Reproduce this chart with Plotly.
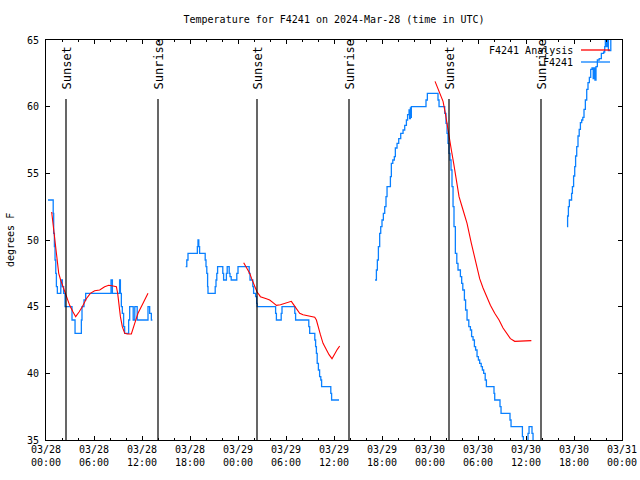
import pandas as pd
import plotly.graph_objects as go

BASE = pd.Timestamp("2024-03-28 00:00")

# Observations (F4241), hours since 03/28 00:00 UTC, degrees F -- three gaps
obs_hours = [
    [0.25, 0.8, 0.9, 0.96, 1.05, 1.13, 1.22, 1.3, 1.42, 1.75, 1.85, 1.95, 2.04, 2.2, 2.38, 3.05,
     3.25, 3.5, 3.63, 4.3, 4.42, 4.5, 4.75, 4.96, 7.96, 8.13, 8.3, 9.1, 9.2, 9.3, 9.42, 9.54,
     9.7, 9.83, 10.25, 10.33, 10.46, 10.8, 10.9, 11.1, 11.4, 12.6, 12.75, 12.96, 13.17, 13.3],
    [17.46, 17.6, 17.75, 18.85, 18.92, 19.0, 19.1, 19.2, 19.8, 19.9, 20.0, 20.1, 20.2, 20.25,
     21.05, 21.15, 21.25, 21.35, 21.45, 22.0, 22.1, 22.2, 22.5, 22.55, 22.65, 22.8, 22.9, 23.0,
     23.15, 23.75, 23.85, 24.0, 25.3, 25.4, 25.5, 25.75, 25.85, 25.95, 26.2, 26.33, 26.4, 28.6,
     28.7, 28.8, 29.3, 29.4, 29.5, 31.0, 31.1, 31.2, 32.7, 32.85, 32.96, 33.5, 33.6, 33.7, 33.8,
     33.9, 34.05, 34.2, 34.35, 34.45, 35.5, 35.6, 35.7, 36.63],
    [41.13, 41.3, 41.42, 41.55, 41.71, 41.84, 42.0, 42.17, 42.34, 42.5, 42.63, 43.0, 43.05,
     43.17, 43.35, 43.54, 43.67, 43.88, 44.09, 44.34, 44.63, 44.84, 45.05, 45.2, 45.38, 45.45,
     45.55, 45.6, 45.67, 47.34, 47.5, 47.67, 48.84, 49.0, 49.13, 49.63, 49.84, 50.0, 50.13,
     50.25, 50.38, 50.5, 50.63, 50.75, 50.88, 51.0, 51.17, 51.35, 51.5, 51.8, 51.96, 52.1, 52.3,
     52.45, 52.63, 52.85, 53.05, 53.2, 53.38, 53.55, 53.7, 53.88, 54.05, 54.21, 54.4, 54.55,
     54.71, 54.9, 55.05, 55.88, 56.0, 56.09, 56.63, 56.75, 56.88, 57.88, 58.0, 58.13, 59.42,
     59.55, 59.67, 60.13, 60.25, 60.38, 60.63, 60.75, 60.88],
    [65.13, 65.2, 65.3, 65.42, 65.6, 65.7, 65.8, 65.95, 66.09, 66.2, 66.34, 66.5, 66.65, 66.8,
     66.96, 67.1, 67.25, 67.42, 67.59, 67.75, 67.92, 68.09, 68.25, 68.4, 68.5, 68.62, 68.75,
     68.92, 69.15, 69.42, 69.71, 69.84, 69.92, 70.05, 70.15, 70.3, 70.46, 70.6, 70.75],
]
obs_temp = [
    [53, 53, 52, 50.5, 49.5, 48.5, 47.5, 46.5, 46, 46, 47, 47, 46.5, 46, 45, 45,
     44, 44, 43, 43, 44, 45, 45.5, 46, 46, 47, 46, 46, 47, 46, 45, 44.5,
     43.5, 43, 43, 44, 45, 45, 44, 45, 44, 44, 45, 44.5, 44, 44],
    [48, 48.5, 49, 49, 49.5, 50, 49.5, 49, 49, 48.5, 48, 47.5, 46.5, 46,
     46, 46.5, 47, 47.5, 48, 48, 47.5, 47, 47, 47.5, 48, 48, 47.5, 47.25,
     47, 47, 47.5, 48, 48, 47.5, 47, 47, 46.5, 46, 45.75, 45.25, 45, 45,
     44.5, 44, 44, 44.5, 45, 45, 44.5, 44, 44, 43.5, 43, 43, 42.5, 42, 41.5,
     40.75, 40.25, 39.75, 39.5, 39, 39, 38.5, 38, 38],
    [47, 47.75, 48.5, 49.5, 50.5, 51, 51.5, 52, 52.5, 53.25, 54, 54, 54.75,
     55.75, 56, 56.25, 56.9, 57.25, 57.6, 58, 58.25, 58.6, 59, 59.4, 59.75, 59.1,
     59.9, 59.2, 60, 60, 60.5, 61, 61, 60.5, 60, 60, 59.5, 58.75, 58,
     57.25, 56.5, 56, 55.25, 54, 52.5, 51, 49, 48.25, 47.75, 47.25, 46.75, 46.25, 45.5,
     44.75, 44, 43.5, 43.25, 42.75, 42.5, 42, 41.75, 41.25, 41, 40.75, 40.5, 40.25,
     40, 39.5, 39, 39, 38.5, 38, 38, 37.5, 37, 37, 36.5, 36, 36,
     35.25, 34.9, 34.9, 35.5, 36, 36, 35.5, 34.9],
    [51, 51.8, 52.5, 53, 53, 53.5, 54, 54.8, 55.5, 56.3, 57, 57.8, 58.3, 58.8,
     59, 59.2, 59.8, 60.5, 61.3, 61.8, 62.2, 62.8, 62.9, 62.1, 62.9, 62, 63,
     63.5, 63.6, 64, 64.1, 64.5, 65.2, 64.5, 65.2, 64.2, 64.2, 65.2, 65.5],
]

# Analysis (F4241 Analysis)
ana_hours = [
    [0.71, 0.875, 1.13, 1.38, 1.59, 1.83, 2.13, 2.46, 2.96, 3.38, 3.71, 4.13, 4.54, 5.04, 5.54,
     6.08, 6.71, 7.33, 7.84, 8.38, 8.8, 8.96, 9.09, 9.3, 9.54, 9.84, 10.17, 10.67, 11.09, 11.5,
     12.13, 12.75],
    [24.71, 25.0, 25.21, 25.46, 25.71, 25.96, 26.21, 26.38, 26.63, 26.8, 27.55, 27.96, 28.38,
     28.8, 29.3, 29.84, 30.38, 30.67, 30.84, 31.3, 31.71, 32.13, 32.96, 33.59, 33.8, 34.0, 34.3,
     34.63, 35.05, 35.38, 35.75, 36.09, 36.42, 36.71],
    [48.63, 48.88, 49.21, 49.63, 49.92, 50.17, 50.38, 50.67, 50.96, 51.3, 51.63, 52.13, 52.63,
     53.17, 53.8, 54.21, 54.63, 55.05, 55.55, 56.09, 56.63, 57.13, 57.55, 58.05, 58.59, 60.05,
     60.67],
]
ana_temp = [
    [52.1, 51.25, 50, 48.5, 47.5, 47, 46.5, 45.9, 45.1, 44.6, 44.25, 44.6, 45, 45.6, 46,
     46.2, 46.25, 46.5, 46.6, 46.55, 46.5, 46, 45.25, 44.25, 43.5, 43, 42.95, 42.95, 43.75, 44.5,
     45.25, 46],
    [48.3, 48, 47.75, 47.5, 47.1, 46.75, 46.4, 46.1, 45.9, 45.75, 45.6, 45.5, 45.3,
     45.1, 45.15, 45.25, 45.35, 45.4, 45.25, 44.9, 44.5, 44.4, 44.3, 44.2, 44, 43.5, 42.9,
     42.25, 41.75, 41.4, 41.1, 41.5, 41.8, 42.05],
    [61.9, 61.5, 61.1, 60.4, 59.5, 58.5, 57.6, 56.75, 55.75, 54.5, 53.25, 52.25, 51.25,
     49.75, 48, 47.1, 46.4, 45.75, 45.1, 44.5, 44, 43.4, 43, 42.6, 42.4, 42.4,
     42.45],
]

sun_hours = [2.5, 14.0, 26.375, 37.875, 50.375, 61.875]
sun_labels = ["Sunset", "Sunrise", "Sunset", "Sunrise", "Sunset", "Sunrise"]

title_text = "Temperature for F4241 on 2024-Mar-28 (time in UTC)"
y_label = "degrees F"
obs_name = "F4241"
ana_name = "F4241 Analysis"

RED = "#ff0000"
BLUE = "#0a80ff"
FONT = "DejaVu Sans Mono"


def to_time(hours):
    return [BASE + pd.Timedelta(hours=h) for h in hours]


def join(seg_x, seg_y):
    xs, ys = [], []
    for sx, sy in zip(seg_x, seg_y):
        xs += to_time(sx) + [None]
        ys += list(sy) + [None]
    return xs, ys


fig = go.Figure()
ox, oy = join(obs_hours, obs_temp)
ax_, ay_ = join(ana_hours, ana_temp)
fig.add_trace(go.Scatter(x=ox, y=oy, mode="lines", name=obs_name,
                         line=dict(color=BLUE, width=1.3, shape="hv"),
                         connectgaps=False, showlegend=False))
fig.add_trace(go.Scatter(x=ax_, y=ay_, mode="lines", name=ana_name,
                         line=dict(color=RED, width=1.1),
                         connectgaps=False, showlegend=False))

# plot-area geometry (pixels) used for paper-coordinate placement
L, R, T, B = 46, 622, 40, 440
PW, PH = R - L, B - T


def px(xp):
    return (xp - L) / PW


def py(yp):
    return (B - yp) / PH


for h, lab in zip(sun_hours, sun_labels):
    t = BASE + pd.Timedelta(hours=h)
    fig.add_shape(type="line", xref="x", yref="paper", x0=t, x1=t, y0=0, y1=py(99),
                  line=dict(color="black", width=1.2))
    fig.add_annotation(x=t, xref="x", y=py(92), yref="paper", text=lab, textangle=-90,
                       showarrow=False, xanchor="center", yanchor="bottom",
                       font=dict(family=FONT, size=12, color="black"))

# gnuplot-style key: text left, sample right
for name, color, ypix in [(ana_name, RED, 50), (obs_name, BLUE, 62)]:
    fig.add_annotation(x=px(575), y=py(ypix), xref="paper", yref="paper", text=name,
                       showarrow=False, xanchor="right", yanchor="middle",
                       font=dict(family=FONT, size=10, color="black"))
    fig.add_shape(type="line", xref="paper", yref="paper", x0=px(581), x1=px(610),
                  y0=py(ypix), y1=py(ypix), line=dict(color=color, width=1.3))

fig.add_annotation(x=px(10), y=0.5, xref="paper", yref="paper", text=y_label,
                   textangle=-90, showarrow=False, xanchor="center", yanchor="middle",
                   font=dict(family=FONT, size=10, color="black"))

fig.update_layout(
    width=640, height=480, autosize=False,
    margin=dict(l=L, r=640 - R, t=T, b=480 - B, pad=0, autoexpand=False),
    paper_bgcolor="white", plot_bgcolor="white",
    font=dict(family=FONT, size=10, color="black"),
    title=dict(text=title_text, x=0.5, xref="paper", y=1 - 19 / 480, yref="container",
               xanchor="center", yanchor="middle", font=dict(family=FONT, size=10),
               automargin=False),
    showlegend=False,
)
fig.update_xaxes(
    type="date", range=[BASE, BASE + pd.Timedelta(hours=72)], automargin=False,
    dtick=6 * 3600 * 1000, tick0=BASE, tickformat="%m/%d<br>%H:%M",
    ticks="inside", ticklen=4, tickwidth=1, tickcolor="black",
    minor=dict(ticks="inside", ticklen=2, dtick=2 * 3600 * 1000, tick0=BASE, tickcolor="black",
               showgrid=False),
    showline=True, linecolor="black", linewidth=1, mirror="ticks",
    showgrid=False, zeroline=False, tickfont=dict(family=FONT, size=10),
)
fig.update_yaxes(
    range=[35, 65], dtick=5, tick0=35, automargin=False,
    ticks="inside", ticklen=4, tickwidth=1, tickcolor="black",
    showline=True, linecolor="black", linewidth=1, mirror="ticks",
    showgrid=False, zeroline=False, tickfont=dict(family=FONT, size=10),
    ticklabelstandoff=4,
)

fig.write_html("out.html", config={"displayModeBar": False},
               post_script="document.body.style.margin='0';")
